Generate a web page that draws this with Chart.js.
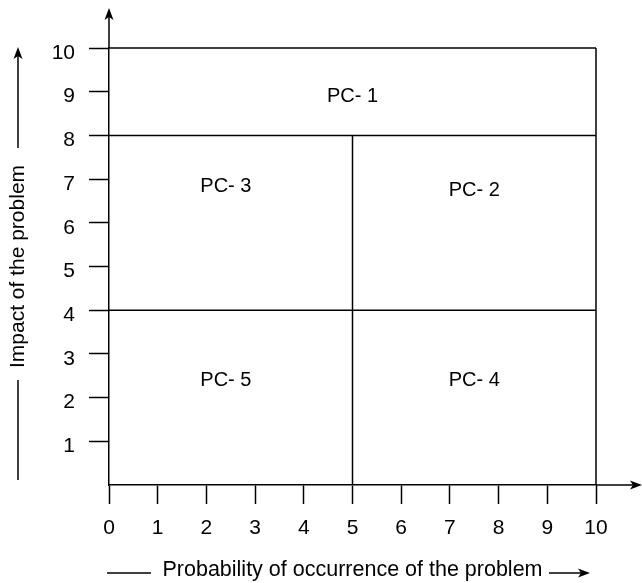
<!DOCTYPE html>
<html><head><meta charset="utf-8">
<script src="https://cdn.jsdelivr.net/npm/chart.js@4/dist/chart.umd.min.js"></script>
<style>html,body{margin:0;padding:0;background:#fff;}canvas{display:block;}</style>
</head><body>
<canvas id="c" width="642" height="583"></canvas>
<script>
// ---- data ----
const xTickLabels = ['0','1','2','3','4','5','6','7','8','9','10'];
const yTickLabels = ['','1','2','3','4','5','6','7','8','9','10'];
const hLineY    = [10, 8, 4];
const hLineFrom = [0, 0, 0];
const hLineTo   = [10, 10, 10];
const vLineX    = [10, 5];
const vLineFrom = [0, 0];
const vLineTo   = [10, 8];
const zoneNames = ['PC- 1','PC- 2','PC- 3','PC- 4','PC- 5'];
const zoneX     = [5, 7.5, 2.4, 7.5, 2.4];
const zoneY     = [8.9, 6.73, 6.84, 2.4, 2.4];
const xTitle = 'Probability of occurrence of the problem';
const yTitle = 'Impact of the problem';

const FONT = "'Liberation Sans', Arial, sans-serif";
const INK = '#000';
const LW = 1.5;

const datasets = [];
hLineY.forEach((y,i)=>datasets.push({data:[{x:hLineFrom[i],y},{x:hLineTo[i],y}]}));
vLineX.forEach((x,i)=>datasets.push({data:[{x,y:vLineFrom[i]},{x,y:vLineTo[i]}]}));
datasets.forEach(d=>Object.assign(d,{showLine:true,borderColor:INK,borderWidth:LW,pointRadius:0,clip:false,fill:false}));

function arrowHead(ctx, tx, ty, dx, dy){
  const len=12, half=4.5, notch=3;
  const px=-dy, py=dx;
  ctx.beginPath();
  ctx.moveTo(tx,ty);
  ctx.lineTo(tx-dx*len+px*half, ty-dy*len+py*half);
  ctx.lineTo(tx-dx*(len-notch), ty-dy*(len-notch));
  ctx.lineTo(tx-dx*len-px*half, ty-dy*len-py*half);
  ctx.closePath();
  ctx.fill();
}
function seg(ctx,x1,y1,x2,y2){ctx.beginPath();ctx.moveTo(x1,y1);ctx.lineTo(x2,y2);ctx.stroke();}

const deco = {
  id:'deco',
  afterDraw(chart){
    const {ctx, chartArea:a, scales:{x,y}} = chart;
    ctx.save();
    ctx.strokeStyle=INK; ctx.fillStyle=INK; ctx.lineWidth=LW;
    const x0=x.getPixelForValue(0), y0=y.getPixelForValue(0);
    // axis extensions with arrows
    seg(ctx,a.right,y0,636,y0); arrowHead(ctx,642,y0,1,0);
    seg(ctx,x0,a.top,x0,14); arrowHead(ctx,x0,8,0,-1);
    // y title arrow
    seg(ctx,18,480,18,380); seg(ctx,18,148,18,56); arrowHead(ctx,18,47,0,-1);
    // x title arrow
    seg(ctx,107,573,151,573); seg(ctx,549,573,582,573); arrowHead(ctx,590,573,1,0);
    // zone labels
    ctx.font = '20px '+FONT; ctx.textAlign='center'; ctx.textBaseline='middle';
    zoneNames.forEach((n,i)=>ctx.fillText(n, x.getPixelForValue(zoneX[i]), y.getPixelForValue(zoneY[i])));
    ctx.restore();
  }
};

new Chart(document.getElementById('c'), {
  type:'scatter',
  data:{datasets},
  plugins:[deco],
  options:{
    responsive:false, animation:false, devicePixelRatio:1,
    layout:{padding:{top:48,right:46,left:0,bottom:0}},
    plugins:{legend:{display:false},tooltip:{enabled:false}},
    scales:{
      x:{type:'linear',min:0,max:10,
        afterFit(s){s.height=98;},
        border:{display:true,color:INK,width:LW},
        grid:{drawOnChartArea:false,drawTicks:true,tickLength:19,tickColor:INK,tickWidth:LW},
        ticks:{stepSize:1,color:INK,padding:12,font:{family:FONT,size:21},maxRotation:0,
          callback:(v,i)=>xTickLabels[i]},
        title:{display:true,text:xTitle,color:INK,font:{family:FONT,size:21.5},padding:{top:0,bottom:0}}
      },
      y:{type:'linear',min:0,max:10,
        afterFit(s){s.width=109;},
        border:{display:true,color:INK,width:LW},
        grid:{drawOnChartArea:false,drawTicks:true,tickLength:20,tickWidth:LW,
          tickColor:c=>c.tick&&c.tick.value===0?'rgba(0,0,0,0)':INK},
        ticks:{stepSize:1,color:INK,padding:14,labelOffset:5,font:{family:FONT,size:21},
          callback:(v,i)=>yTickLabels[i]},
        title:{display:true,text:yTitle,color:INK,font:{family:FONT,size:21},padding:{top:6,bottom:0}}
      }
    }
  }
});
</script>
</body></html>
